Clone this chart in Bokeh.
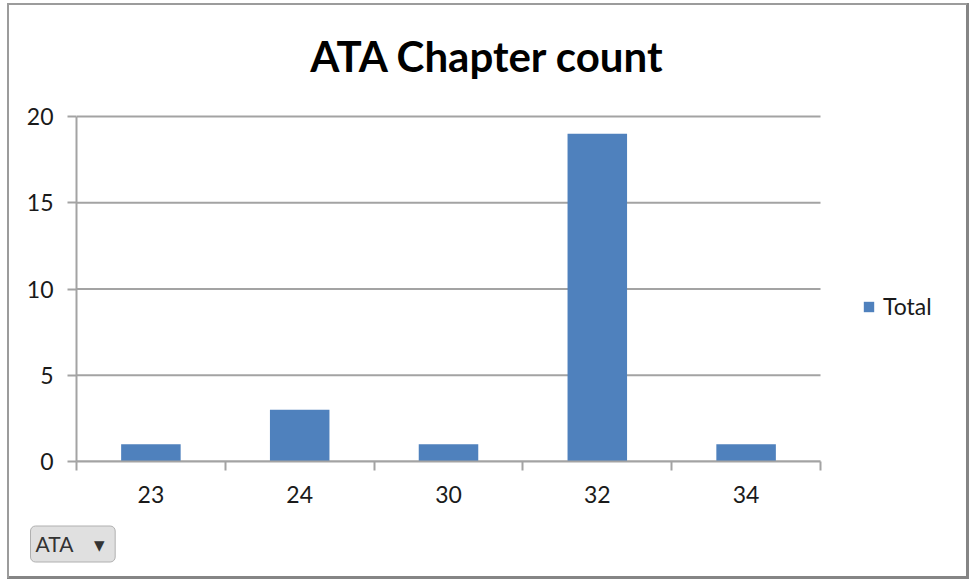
from bokeh.plotting import figure
from bokeh.models import (ColumnDataSource, FixedTicker, Legend, LegendItem, Title, Label,
                          Range1d)
from bokeh.embed import file_html
from bokeh.resources import INLINE

# ---- data -------------------------------------------------------------
chapters = ["23", "24", "30", "32", "34"]
totals = [1, 3, 1, 19, 1]
y_ticks = [0, 5, 10, 15, 20]
series_name = "Total"
chart_title = "ATA Chapter count"
field_button = "ATA\u00a0\u00a0\u00a0\u00a0▾"

# ---- styling ----------------------------------------------------------
FONT = "Lato"
BAR = "#4F81BD"
GRID = "#A3A3A3"
TEXT = "#1A1A1A"

W, H = 970, 580
LEFT, RIGHT, TOP, BOTTOM = 76, 8, 10, 119
PLOT_W, PLOT_H = 744, 345         # pixel size of the value/category area
n = len(chapters)
FRAME_W = W - LEFT - RIGHT
FRAME_H = H - TOP - BOTTOM
# the frame also hosts the legend (right) and the title (top)
x_end = n * FRAME_W / PLOT_W
y_end = y_ticks[-1] * FRAME_H / PLOT_H

centers = [i + 0.5 for i in range(n)]
bounds = list(range(n + 1))

src = ColumnDataSource(dict(x=centers, chapter=chapters, total=totals))
grid_src = ColumnDataSource(dict(x0=[0] * len(y_ticks), x1=[n] * len(y_ticks),
                                 y=y_ticks))

# chart border (with a darker right/bottom edge) painted behind the canvas
def _bar(color, x, y, w, h):
    return f"linear-gradient({color},{color}) {x}px {y}px / {w}px {h}px no-repeat"

frame_css = ", ".join([
    _bar("#9C9C9C", 7, 3, 2, 575),
    _bar("#9C9C9C", 7, 3, 960, 2),
    _bar("#858585", 966, 3, 3, 576),
    _bar("#858585", 7, 576, 962, 3),
]) + ", #FFFFFF"

p = figure(width=W, height=H, output_backend="svg", toolbar_location=None,
           x_range=Range1d(0, x_end), y_range=Range1d(0, y_end),
           min_border_left=LEFT, min_border_right=RIGHT,
           min_border_top=TOP, min_border_bottom=BOTTOM,
           background_fill_alpha=0, border_fill_alpha=0,
           outline_line_color=None,
           styles={"background": frame_css})

# horizontal gridlines spanning the category area only
p.segment(x0="x0", x1="x1", y0="y", y1="y", source=grid_src,
          line_color=GRID, line_width=2)

bars = p.vbar(x="x", top="total", bottom=0, width=0.4, source=src,
              fill_color=BAR, line_color=None)

# x axis: labels at category centres, tick marks between categories
xa = p.xaxis[0]
xa.bounds = (0, n)
xa.ticker = FixedTicker(ticks=centers, minor_ticks=bounds)
xa.major_label_overrides = {c: ch for c, ch in zip(centers, chapters)}
xa.major_tick_in = 0
xa.major_tick_out = 0
xa.minor_tick_in = 0
xa.minor_tick_out = 9
xa.minor_tick_line_color = GRID
xa.minor_tick_line_width = 2
xa.axis_line_color = GRID
xa.axis_line_width = 2
xa.major_label_standoff = 15
xa.major_label_text_font = FONT
xa.major_label_text_font_size = "23px"
xa.major_label_text_color = TEXT

ya = p.yaxis[0]
ya.bounds = (0, y_ticks[-1])
ya.ticker = FixedTicker(ticks=y_ticks)
ya.major_tick_in = 0
ya.major_tick_out = 9
ya.major_tick_line_color = GRID
ya.major_tick_line_width = 2
ya.minor_tick_line_color = None
ya.axis_line_color = GRID
ya.axis_line_width = 2
ya.major_label_standoff = 14
ya.major_label_text_font = FONT
ya.major_label_text_font_size = "23px"
ya.major_label_text_color = TEXT

p.grid.grid_line_color = None

# legend to the right of the category area
legend = Legend(items=[LegendItem(label=series_name, renderers=[bars])],
                location=(786, 141), padding=0, margin=0,
                glyph_width=13, glyph_height=13, label_standoff=8,
                label_text_font=FONT, label_text_font_size="23px",
                label_text_color=TEXT,
                border_line_color=None, background_fill_alpha=0)
p.add_layout(legend)

# chart title, centred on the chart
p.add_layout(Label(x=W / 2 + 2 - LEFT, y=PLOT_H + 61, x_units="screen", y_units="screen",
                   text=chart_title, text_align="center", text_baseline="alphabetic",
                   text_font=FONT, text_font_style="bold", text_font_size="42px",
                   text_color="#000000"))

# pivot field button under the axis
p.add_layout(Title(text=field_button, align="left", offset=-46, standoff=37,
                   text_font=FONT, text_font_style="normal", text_font_size="21px",
                   text_color="#333333", padding=(5, 10, 5, 6), border_radius=5,
                   background_fill_color="#E0E0E0", border_line_color="#B0B0B0"),
             "below")

open("out.html", "w").write(file_html(p, INLINE))
